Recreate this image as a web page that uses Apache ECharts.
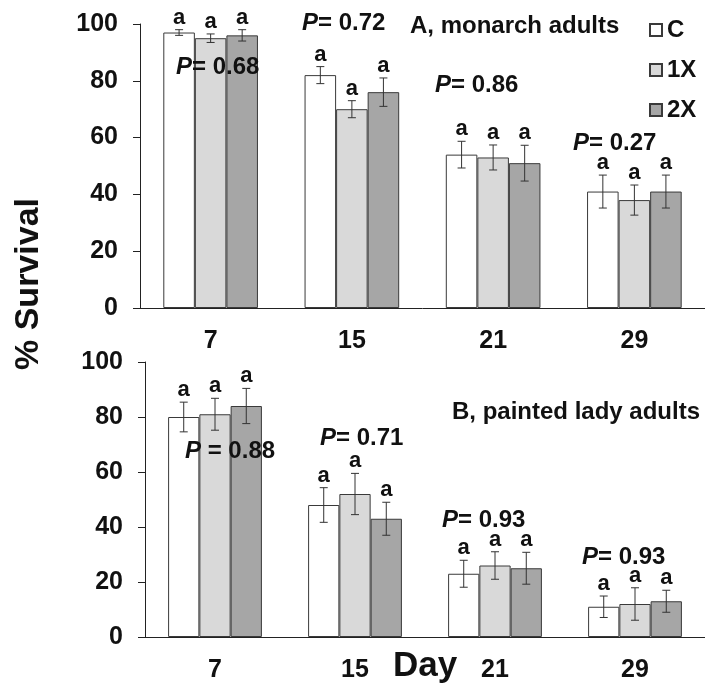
<!DOCTYPE html>
<html>
<head>
<meta charset="utf-8">
<script src="https://cdn.jsdelivr.net/npm/echarts@6/dist/echarts.min.js"></script>
<style>
  html, body { margin: 0; padding: 0; background: #fff; }
  #chart { width: 705px; height: 685px; }
</style>
</head>
<body>
<div id="chart"></div>
<script>
// days on the x axis
var days = ["7", "15", "21", "29"];
var groups = ["C", "1X", "2X"];

// A, monarch adults (% survival, +/- error)
var monC = [97, 82, 54, 41];
var monCErr = [1, 3, 4.7, 5.8];
var mon1X = [95, 70, 53, 38];
var mon1XErr = [1.5, 3, 4.4, 5.3];
var mon2X = [96, 76, 51, 41];
var mon2XErr = [2, 5, 6.3, 5.8];
var monP = ["0.68", "0.72", "0.86", "0.27"];

// B, painted lady adults
var ladyC = [80, 48, 23, 11];
var ladyCErr = [5.4, 6.3, 4.9, 3.9];
var lady1X = [81, 52, 26, 12];
var lady1XErr = [5.8, 7.5, 5, 5.9];
var lady2X = [84, 43, 25, 13];
var lady2XErr = [6.4, 6, 5.8, 4];
var ladyP = ["0.88", "0.71", "0.93", "0.93"];

var yTicks = [0, 20, 40, 60, 80, 100];

var FONT = '"Liberation Sans", Arial, sans-serif';
var colors = ["#ffffff", "#d9d9d9", "#a6a6a6"];
var GAP = 0.33;

var chart = echarts.init(document.getElementById("chart"));

function errData(sets) {
  var out = [];
  sets.forEach(function (s, si) {
    s[0].forEach(function (v, i) {
      out.push([i, si, v, s[1][i]]);
    });
  });
  return out;
}

function renderErr(params, api) {
  var cat = api.value(0), s = api.value(1), v = api.value(2), e = api.value(3);
  var band = api.size([1, 0])[0];
  var bw = (band * (1 - GAP)) / 3;
  var x = api.coord([cat, v])[0] + (s - 1) * bw;
  var yT = api.coord([cat, v + e])[1];
  var yB = api.coord([cat, v - e])[1];
  var st = { stroke: "#333", lineWidth: 1 };
  return {
    type: "group",
    children: [
      { type: "line", shape: { x1: x, y1: yT, x2: x, y2: yB }, style: st },
      { type: "line", shape: { x1: x - 4, y1: yT, x2: x + 4, y2: yT }, style: st },
      { type: "line", shape: { x1: x - 4, y1: yB, x2: x + 4, y2: yB }, style: st },
      {
        type: "text",
        x: x,
        y: yT - 1,
        style: {
          text: "a",
          textAlign: "center",
          textVerticalAlign: "bottom",
          font: "bold 22px " + FONT,
          fill: "#111",
        },
      },
    ],
  };
}

function barSeries(name, data, idx) {
  return {
    name: name,
    type: "bar",
    xAxisIndex: idx,
    yAxisIndex: idx,
    data: data,
    barGap: "0%",
    barCategoryGap: GAP * 100 + "%",
    itemStyle: { color: colors[groups.indexOf(name)], borderColor: "#3a3a3a", borderWidth: 1 },
  };
}

function pText(x, y, p, sep) {
  return {
    type: "text",
    x: x,
    y: y,
    z: 100,
    style: {
      text: "{i|P}{n|" + sep + "= " + p + "}",
      textVerticalAlign: "middle",
      rich: {
        i: { fontStyle: "italic", fontWeight: "bold", fontSize: 24, fontFamily: FONT, fill: "#111" },
        n: { fontWeight: "bold", fontSize: 24, fontFamily: FONT, fill: "#111" },
      },
    },
  };
}

function xAxisCfg(idx) {
  return {
    type: "category",
    gridIndex: idx,
    data: days,
    axisLine: { lineStyle: { color: "#222", width: 1 } },
    axisTick: { length: 8, lineStyle: { color: "#222" } },
    axisLabel: { color: "#111", fontWeight: "bold", fontSize: 25, fontFamily: FONT, margin: 21 },
  };
}

function yAxisCfg(idx) {
  return {
    type: "value",
    gridIndex: idx,
    min: 0,
    max: 100,
    interval: 20,
    splitLine: { show: false },
    axisLine: { show: true, lineStyle: { color: "#222", width: 1 } },
    axisTick: { show: true, length: 7, lineStyle: { color: "#222" } },
    axisLabel: {
      color: "#111",
      fontWeight: "bold",
      fontSize: 25,
      fontFamily: FONT,
      margin: 22,
      formatter: function (v) {
        return yTicks.indexOf(v) >= 0 ? v : "";
      },
    },
  };
}

var option = {
  backgroundColor: "#fff",
  animation: false,
  grid: [
    { left: 140, top: 24, width: 570, height: 284 },
    { left: 145, top: 362, width: 564, height: 275 },
  ],
  legend: {
    data: groups,
    orient: "vertical",
    left: 644,
    top: 13,
    itemWidth: 12,
    itemHeight: 12,
    itemGap: 16,
    icon: "rect",
    textStyle: { color: "#111", fontWeight: "bold", fontSize: 24, fontFamily: FONT },
  },
  xAxis: [xAxisCfg(0), xAxisCfg(1)],
  yAxis: [yAxisCfg(0), yAxisCfg(1)],
  series: [
    barSeries("C", monC, 0),
    barSeries("1X", mon1X, 0),
    barSeries("2X", mon2X, 0),
    barSeries("C", ladyC, 1),
    barSeries("1X", lady1X, 1),
    barSeries("2X", lady2X, 1),
    {
      type: "custom",
      xAxisIndex: 0,
      yAxisIndex: 0,
      z: 5,
      encode: { x: 0, y: 2 },
      renderItem: renderErr,
      data: errData([[monC, monCErr], [mon1X, mon1XErr], [mon2X, mon2XErr]]),
    },
    {
      type: "custom",
      xAxisIndex: 1,
      yAxisIndex: 1,
      z: 5,
      encode: { x: 0, y: 2 },
      renderItem: renderErr,
      data: errData([[ladyC, ladyCErr], [lady1X, lady1XErr], [lady2X, lady2XErr]]),
    },
  ],
  graphic: [
    // panel A annotations
    pText(176, 67, monP[0], ""),
    pText(302, 23, monP[1], ""),
    pText(435, 85, monP[2], ""),
    pText(573, 143, monP[3], ""),
    {
      type: "text",
      x: 410,
      y: 26,
      z: 100,
      style: { text: "A, monarch adults", textVerticalAlign: "middle", font: "bold 24px " + FONT, fill: "#111" },
    },
    // panel B annotations
    pText(185, 451, ladyP[0], " "),
    pText(320, 438, ladyP[1], ""),
    pText(442, 520, ladyP[2], ""),
    pText(582, 557, ladyP[3], ""),
    {
      type: "text",
      x: 452,
      y: 412,
      z: 100,
      style: { text: "B, painted lady adults", textVerticalAlign: "middle", font: "bold 24px " + FONT, fill: "#111" },
    },
    // axis titles
    {
      type: "text",
      x: 29,
      y: 284,
      z: 100,
      rotation: Math.PI / 2,
      style: { text: "% Survival", textAlign: "center", textVerticalAlign: "middle", font: "bold 34px " + FONT, fill: "#111" },
    },
    {
      type: "text",
      x: 425,
      y: 666,
      z: 100,
      style: { text: "Day", textAlign: "center", textVerticalAlign: "middle", font: "bold 35px " + FONT, fill: "#111" },
    },
  ],
};

chart.setOption(option);
</script>
</body>
</html>
